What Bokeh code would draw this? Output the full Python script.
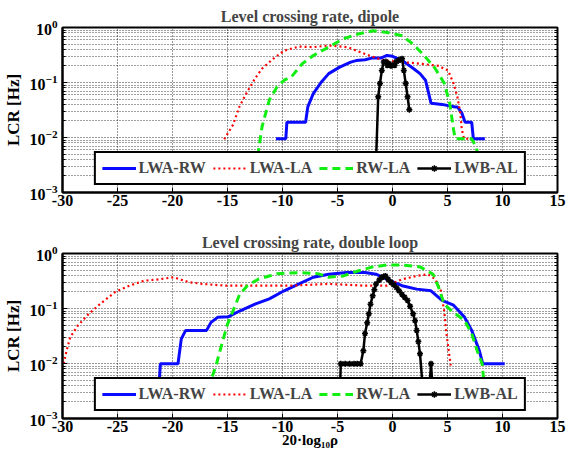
from bokeh.plotting import figure
from bokeh.layouts import column
from bokeh.models import FixedTicker, LogAxis, Legend, LegendItem, CustomJSTickFormatter
from bokeh.embed import file_html
from bokeh.resources import INLINE

# ---------------- data: dipole ----------------
dip_lwa_rw_x = [-10.6, -9.7, -9.6, -7.9, -7.7, -7.2, -6.5, -5.8, -4.8, -3.8, -3.3, -2.5, -1.8, -1.0,
                -0.5, 0.0, 0.9, 1.9, 2.5, 3.0, 3.5, 4.5, 5.7, 5.9, 6.3, 6.6, 7.2, 7.35, 8.4]
dip_lwa_rw_y = [0.0095, 0.0095, 0.019, 0.019, 0.036, 0.063, 0.10, 0.145, 0.19, 0.235, 0.25, 0.26,
                0.28, 0.28, 0.31, 0.30, 0.25, 0.18, 0.145, 0.11, 0.042, 0.04, 0.036, 0.036, 0.028,
                0.019, 0.019, 0.0095, 0.0095]

dip_lwa_la_x = [-15.3, -14.5, -13.9, -13.2, -12.5, -11.85, -10.85, -9.85, -8.5, -7.2, -5.8, -4.1,
                -2.5, -0.8, 0.9, 2.5, 4.2, 5.05, 5.55, 5.9, 6.16, 6.3, 6.5, 7.2]
dip_lwa_la_y = [0.0093, 0.017, 0.037, 0.068, 0.118, 0.18, 0.27, 0.38, 0.45, 0.44, 0.47, 0.44,
                0.33, 0.25, 0.235, 0.22, 0.2, 0.165, 0.096, 0.055, 0.028, 0.014, 0.0095, 0.0095]

dip_rw_la_x = [-12.26, -11.85, -11.2, -10.5, -9.85, -9.2, -8.2, -7.2, -5.8, -4.5, -3.15, -1.8,
               -0.47, 0.87, 1.87, 2.88, 3.88, 4.72, 5.2, 5.55, 5.7, 7.2, 7.56, 7.83]
dip_rw_la_y = [0.0046, 0.016, 0.048, 0.083, 0.11, 0.126, 0.22, 0.31, 0.44, 0.62, 0.76, 0.87,
               0.81, 0.71, 0.5, 0.31, 0.18, 0.096, 0.042, 0.014, 0.0095, 0.0095, 0.007, 0.0046]

dip_lwb_al_x = [-1.48, -1.3, -1.14, -0.97, -0.8, -0.6, -0.47, -0.3, -0.14, 0.05, 0.2, 0.35,
                0.53, 0.7, 0.87, 1.03, 1.2, 1.37, 1.53]
dip_lwb_al_y = [0.0046, 0.055, 0.096, 0.166, 0.235, 0.24, 0.205, 0.22, 0.2, 0.21, 0.205, 0.24,
                0.25, 0.26, 0.27, 0.166, 0.096, 0.055, 0.032]

# ---------------- data: double loop ----------------
dl_lwa_rw_x = [-21.2, -21.1, -19.5, -19.2, -18.8, -16.9, -16.5, -15.9, -14.9, -13.9, -12.5, -11.2,
               -9.85, -8.5, -7.2, -5.8, -4.15, -2.5, -1.5, -0.5, 0.87, 2.2, 3.5, 4.5, 5.55, 6.56,
               7.2, 7.9, 8.2, 10.2]
dl_lwa_rw_y = [0.0049, 0.0099, 0.0099, 0.028, 0.04, 0.04, 0.056, 0.069, 0.071, 0.09, 0.12, 0.15,
               0.21, 0.28, 0.37, 0.42, 0.45, 0.45, 0.42, 0.34, 0.26, 0.225, 0.21, 0.14, 0.115,
               0.069, 0.04, 0.017, 0.0099, 0.0099]

dl_lwa_la_x = [-29.9, -29.6, -29.3, -28.6, -27.6, -26.6, -25.2, -23.9, -22.6, -21.2, -19.9, -18.5,
               -17.2, -15.2, -12.5, -9.2, -5.8, -2.5, -0.5, 0.87, 2.2, 3.2, 3.9, 4.4, 4.7, 4.9,
               5.15, 5.3]
dl_lwa_la_y = [0.0099, 0.018, 0.03, 0.049, 0.08, 0.12, 0.2, 0.26, 0.32, 0.34, 0.37, 0.3, 0.28,
               0.26, 0.26, 0.26, 0.28, 0.26, 0.26, 0.34, 0.39, 0.42, 0.34, 0.21, 0.09, 0.035,
               0.015, 0.0092]

dl_rw_la_x = [-17.3, -16.5, -16.0, -15.5, -15.0, -14.5, -13.9, -13.2, -12.2, -10.5, -8.5, -6.8,
              -5.8, -4.5, -3.15, -1.8, -0.47, 0.87, 2.5, 3.7, 4.2, 4.7, 5.55, 6.56, 7.2, 7.7,
              8.15, 8.3]
dl_rw_la_y = [0.0049, 0.0049, 0.0099, 0.023, 0.052, 0.09, 0.18, 0.26, 0.34, 0.43, 0.45, 0.43,
              0.37, 0.39, 0.48, 0.57, 0.62, 0.62, 0.57, 0.42, 0.24, 0.12, 0.085, 0.06, 0.035,
              0.017, 0.0099, 0.0049]

dl_lwb_al_x = [-4.75, -4.7, -4.3, -3.9, -3.5, -3.2, -2.9, -2.65, -2.5, -2.3, -2.15, -2.0, -1.8,
               -1.65, -1.5, -1.2, -0.97, -0.8, -0.64, -0.4, -0.14, 0.1, 0.36, 0.6, 0.87, 1.1,
               1.37, 1.6, 1.87, 2.05, 2.2, 2.35, 2.5, 2.7, 2.95, 3.2, 3.4, 3.5, 3.6, 3.7, 3.95, 4.2]
dl_lwb_al_y = [0.0049, 0.0099, 0.0099, 0.0099, 0.0099, 0.0099, 0.0099, 0.017, 0.035, 0.055, 0.08,
               0.12, 0.17, 0.22, 0.28, 0.33, 0.37, 0.38, 0.39, 0.34, 0.3, 0.27, 0.24, 0.21, 0.18,
               0.16, 0.14, 0.11, 0.08, 0.06, 0.04, 0.025, 0.015, 0.0049, 0.0049, 0.0049, 0.0049,
               0.0099, 0.0049, 0.0049, 0.0049, 0.0049]

series_labels = ["LWA-RW", "LWA-LA", "RW-LA", "LWB-AL"]
x_tick_values = [-30, -25, -20, -15, -10, -5, 0, 5, 10, 15]
x_tick_labels = ["-30", "-25", "-20", "-15", "-10", "-5", "0", "5", "10", "15"]
y_tick_values = [1e-3, 1e-2, 1e-1, 1.0]
y_minor_values = [m * 10.0 ** e for e in (-3, -2, -1) for m in range(2, 10)]

FONT = "Liberation Serif"


def make_panel(title, data, height, b_top, b_bottom, xlabel=None):
    p = figure(width=568, height=height, y_axis_type="log", x_range=(-30, 15),
               y_range=(1e-3, 1.0), output_backend="svg", toolbar_location=None,
               min_border_left=58, min_border_right=11, min_border_top=b_top,
               min_border_bottom=b_bottom, title=title)
    p.title.text_font = FONT
    p.title.text_font_style = "bold"
    p.title.text_font_size = "16px"
    p.title.align = "center"
    p.title.standoff = 5
    p.outline_line_color = "black"
    p.outline_line_width = 2
    p.outline_line_alpha = 1
    p.background_fill_color = "white"
    p.border_fill_color = "white"

    xt = FixedTicker(ticks=x_tick_values, minor_ticks=[])
    yt = FixedTicker(ticks=y_tick_values, minor_ticks=y_minor_values)
    p.xaxis.ticker = xt
    p.yaxis.ticker = yt
    p.xaxis.major_label_overrides = dict(zip(x_tick_values, x_tick_labels))

    for ax in (p.xaxis[0], p.yaxis[0]):
        ax.major_label_text_font = FONT
        ax.major_label_text_font_style = "bold"
        ax.major_label_text_font_size = "16px"
        ax.major_label_text_color = "black"
        ax.axis_line_width = 2
        ax.major_tick_in = 5
        ax.major_tick_out = 0
        ax.minor_tick_in = 3
        ax.minor_tick_out = 0
        ax.major_tick_line_width = 1
        ax.axis_label_text_font = FONT
        ax.axis_label_text_font_style = "bold"
        ax.axis_label_text_font_size = "17px"
        ax.axis_label_text_color = "black"
    p.xaxis.major_label_standoff = 2
    p.yaxis.major_label_standoff = 5
    p.yaxis.axis_label = "LCR [Hz]"
    p.yaxis.axis_label_standoff = 4
    if xlabel:
        p.xaxis.axis_label = xlabel
        p.xaxis.axis_label_text_font_size = "15px"
        p.xaxis.axis_label_standoff = -3

    right = LogAxis(ticker=yt, formatter=CustomJSTickFormatter(code="return ' '"),
                    axis_line_color=None, major_label_text_font_size="4px",
                    major_tick_in=5, major_tick_out=0, minor_tick_in=3, minor_tick_out=0,
                    major_label_standoff=0)
    p.add_layout(right, "right")

    for g in (p.xgrid[0], p.ygrid[0]):
        g.grid_line_color = "black"
        g.grid_line_alpha = 0.8
        g.grid_line_dash = "1 2"
        g.grid_line_width = 1
    p.ygrid.minor_grid_line_color = "black"
    p.ygrid.minor_grid_line_alpha = 0.75
    p.ygrid.minor_grid_line_dash = "1 2"

    (bx, by), (rx, ry), (gx, gy), (kx, ky) = data
    r1 = p.line(bx, by, line_color="#0a0aff", line_width=3)
    r2 = p.line(rx, ry, line_color="#ff0000", line_width=2.2, line_dash="2 3")
    r3 = p.line(gx, gy, line_color="#11ee11", line_width=3, line_dash="8 5")
    r4 = p.line(kx, ky, line_color="black", line_width=2.5)
    r5 = p.scatter(kx, ky, marker="asterisk", size=6, line_color="black", line_width=1.5)

    legend = Legend(items=[LegendItem(label=series_labels[0], renderers=[r1]),
                           LegendItem(label=series_labels[1], renderers=[r2]),
                           LegendItem(label=series_labels[2], renderers=[r3]),
                           LegendItem(label=series_labels[3], renderers=[r4, r5])],
                    orientation="horizontal", location="bottom_center", margin=7,
                    padding=6, spacing=7, label_standoff=3, glyph_width=34,
                    glyph_height=16, label_height=16,
                    label_text_font=FONT, label_text_font_style="bold",
                    label_text_font_size="16px", border_line_color="black",
                    border_line_width=2, border_line_alpha=1,
                    background_fill_color="white", background_fill_alpha=1)
    p.add_layout(legend)
    return p


p1 = make_panel("Level crossing rate, dipole",
                [(dip_lwa_rw_x, dip_lwa_rw_y), (dip_lwa_la_x, dip_lwa_la_y),
                 (dip_rw_la_x, dip_rw_la_y), (dip_lwb_al_x, dip_lwb_al_y)],
                224, 27, 32)
p2 = make_panel("Level crossing rate, double loop",
                [(dl_lwa_rw_x, dl_lwa_rw_y), (dl_lwa_la_x, dl_lwa_la_y),
                 (dl_rw_la_x, dl_rw_la_y), (dl_lwb_al_x, dl_lwb_al_y)],
                228, 29, 34, xlabel="20·log₁₀ρ")

layout = column(p1, p2, spacing=0)
open("out.html", "w").write(file_html(layout, INLINE))
